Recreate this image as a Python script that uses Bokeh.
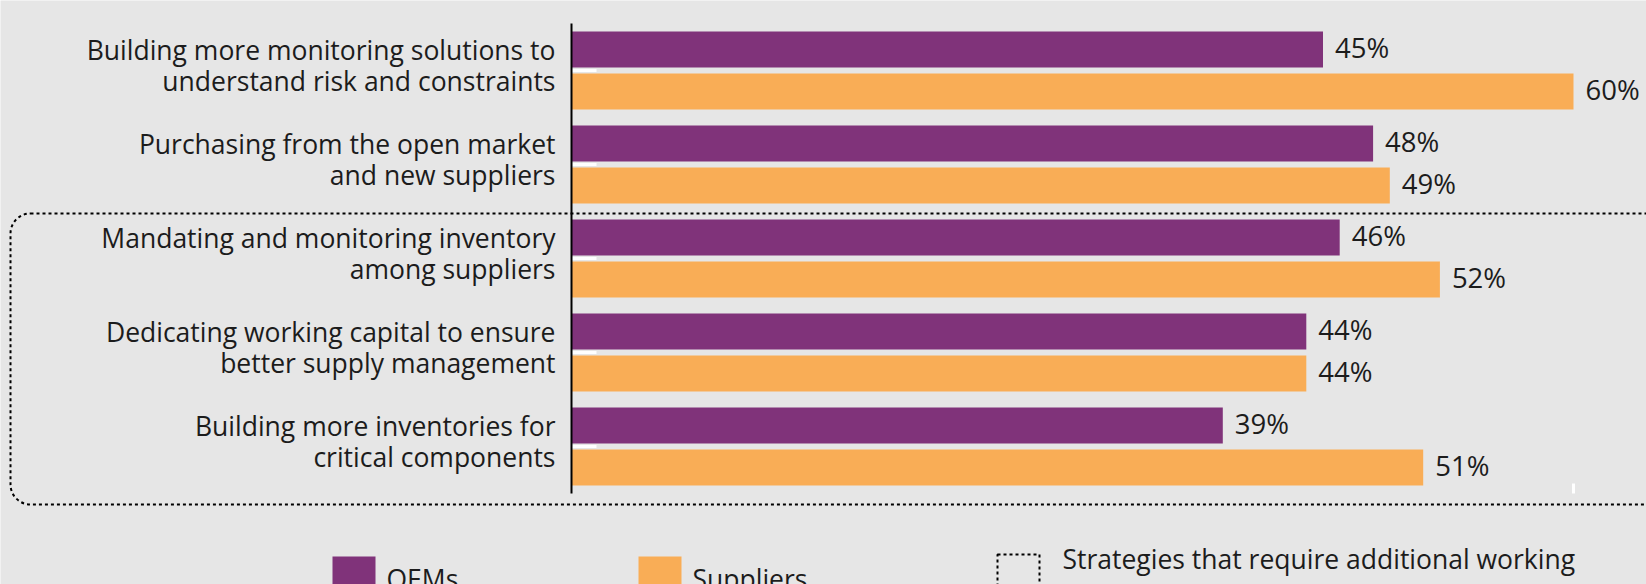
from bokeh.plotting import figure
from bokeh.models import Range1d, ColumnDataSource
from bokeh.embed import file_html
from bokeh.resources import INLINE
from bokeh.core.properties import value

# ---------------- data ----------------
categories = [
    ["Building more monitoring solutions to", "understand risk and constraints"],
    ["Purchasing from the open market", "and new suppliers"],
    ["Mandating and monitoring inventory", "among suppliers"],
    ["Dedicating working capital to ensure", "better supply management"],
    ["Building more inventories for", "critical components"],
]
oems = [45, 48, 46, 44, 39]
suppliers = [60, 49, 52, 44, 51]
series_names = ["OEMs", "Suppliers"]
note_lines = ["Strategies that require additional working", "capital to implement"]
x_tick_values = [60]

# ---------------- style / layout ----------------
BG = "#e6e6e6"
PURPLE = "#80337a"
ORANGE = "#f9ad56"
TXT = "#1c1c1c"
FONT = "Open Sans"
FS_VAL = "27.5px"
FS_LAB = "26.5px"

W, H = 1646, 584
AX_X, AX_TOP, AX_BOT = 571, 23, 493   # axis position in canvas px
PX_PER = 16.7                          # px per percentage point
n = len(categories)
slot = (AX_BOT - AX_TOP) / n           # px per category

def xd(px):
    return (px - AX_X) / PX_PER

def yd(py):
    return (AX_BOT - py) / slot - 0.5

p = figure(width=W, height=H, output_backend="svg", toolbar_location=None,
           x_range=Range1d(xd(0), xd(W)), y_range=Range1d(yd(H), yd(0)),
           min_border=0, x_axis_location=None, y_axis_location=None)
p.background_fill_color = BG
p.border_fill_color = BG
p.outline_line_color = None
p.grid.visible = False

centers = [n - 1 - i for i in range(n)]
off = 21 / slot
bh = 36 / slot

src_o = ColumnDataSource(dict(y=[c + off for c in centers], v=oems,
                              lbl=[f"{v}%" for v in oems]))
src_s = ColumnDataSource(dict(y=[c - off for c in centers], v=suppliers,
                              lbl=[f"{v}%" for v in suppliers]))

# dotted group box (last three strategies)
p.quad(left=xd(10), right=xd(1720), top=yd(213), bottom=yd(504),
       fill_color=None, line_color="black", line_width=2, line_dash="3 3",
       border_radius=20)

for src, col in ((src_o, PURPLE), (src_s, ORANGE)):
    p.hbar(y="y", left=0, right="v", height=bh, source=src,
           fill_color=col, line_color=None)
    p.text(x="v", y="y", text="lbl", source=src, x_offset=12, y_offset=-2,
           text_baseline="middle", text_align="left",
           text_font=value(FONT), text_font_size=FS_VAL, text_color=TXT)

# category axis: white inward ticks, black axis line, two-line labels
p.segment(x0=[0] * n, y0=centers, x1=[25 / PX_PER] * n, y1=centers,
          line_color="white", line_width=3)
p.segment(x0=x_tick_values, y0=[-0.5] * len(x_tick_values),
          x1=x_tick_values, y1=[-0.5 + 10 / slot] * len(x_tick_values),
          line_color="white", line_width=3)
p.segment(x0=[0], y0=[-0.5], x1=[0], y1=[n - 0.5], line_color="black", line_width=2)

lab_src = ColumnDataSource(dict(
    x=[0] * (2 * n),
    y=[c + 20.5 / slot for c in centers] + [c - 10.5 / slot for c in centers],
    t=[cat[0] for cat in categories] + [cat[1] for cat in categories]))
p.text(x="x", y="y", text="t", source=lab_src, x_offset=-16,
       text_align="right", text_baseline="alphabetic",
       text_font=value(FONT), text_font_size=FS_LAB, text_color=TXT)

# legend
sw = 43
sw_x = [332, 638]
sw_cols = [PURPLE, ORANGE]
p.quad(left=[xd(x) for x in sw_x], right=[xd(x + sw) for x in sw_x],
       top=yd(556), bottom=yd(556 + sw), fill_color=sw_cols, line_color=None)
p.text(x=[xd(x + sw + 11) for x in sw_x], y=[yd(578)] * 2, text=series_names,
       text_baseline="alphabetic", text_font=value(FONT), text_font_size=FS_LAB,
       text_color=TXT)
p.quad(left=xd(997), right=xd(1039), top=yd(554), bottom=yd(597),
       fill_color=None, line_color="black", line_width=2, line_dash="3 3")
p.text(x=[xd(1062)] * 2, y=[yd(558), yd(596)], text=note_lines,
       text_baseline="alphabetic", text_font=value(FONT), text_font_size=FS_LAB,
       text_color=TXT)

open("out.html", "w").write(file_html(p, INLINE))
